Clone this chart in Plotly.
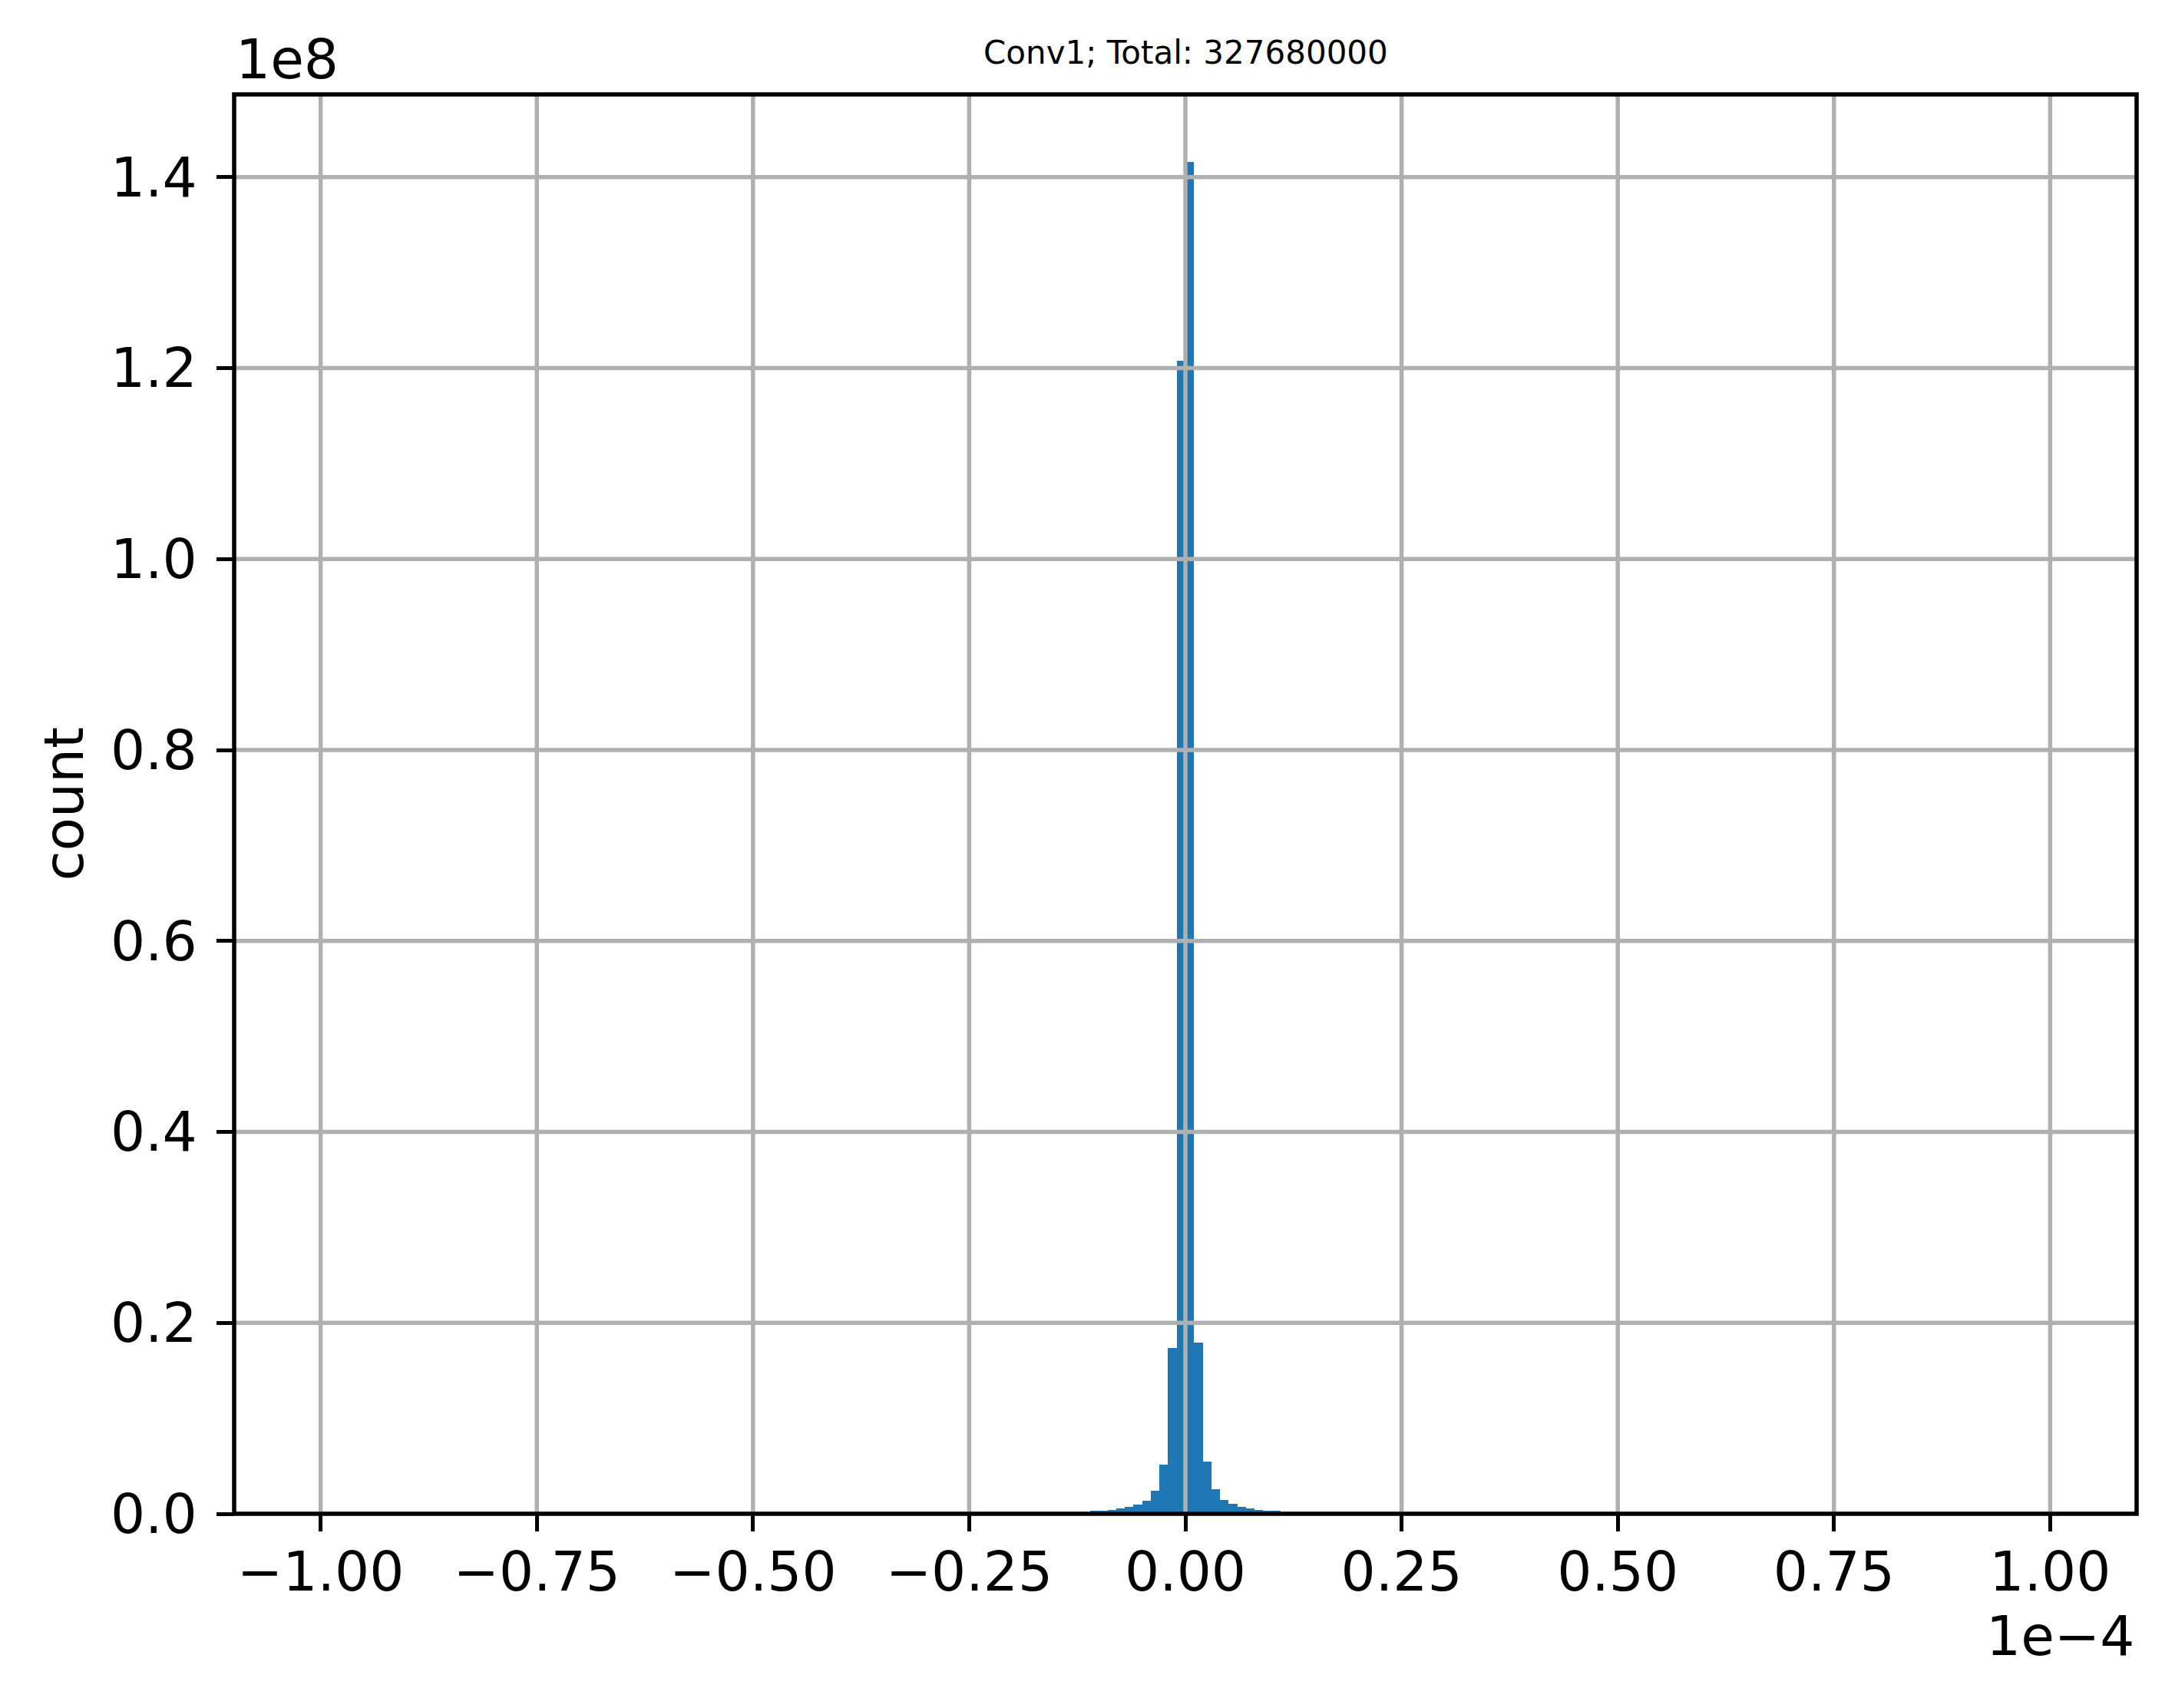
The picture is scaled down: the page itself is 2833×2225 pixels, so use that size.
import plotly.graph_objects as go

# ---- data ----
title_text = "Conv1; Total: 327680000"
bin_width = 1e-6
hist_range = (-1e-4, 1e-4)
# left edges of non-empty bins, in units of bin_width
bin_left_idx = [-13, -12, -11, -10, -9, -8, -7, -6, -5, -4, -3, -2, -1,
                0, 1, 2, 3, 4, 5, 6, 7, 8, 9, 10, 11, 12]
# counts per bin
counts = [80000, 150000, 290000, 290000, 390000, 550000, 710000, 950000,
          1400000, 2440000, 5180000, 17400000, 120740000,
          141590000, 17900000, 5430000, 2550000, 1480000, 1030000, 710000,
          550000, 390000, 290000, 290000, 150000, 80000]

x_tick_vals = [-1.0e-4, -0.75e-4, -0.5e-4, -0.25e-4, 0.0, 0.25e-4, 0.5e-4, 0.75e-4, 1.0e-4]
x_tick_text = ["\u22121.00", "\u22120.75", "\u22120.50", "\u22120.25", "0.00", "0.25", "0.50", "0.75", "1.00"]
y_tick_vals = [0, 0.2e8, 0.4e8, 0.6e8, 0.8e8, 1.0e8, 1.2e8, 1.4e8]
y_tick_text = ["0.0", "0.2", "0.4", "0.6", "0.8", "1.0", "1.2", "1.4"]
x_offset_text = "1e\u22124"
y_offset_text = "1e8"
y_label = "count"

# ---- figure ----
W, H = 2833, 2225
PAGE_OFFSET = 8  # default browser body margin
L, R, T, B = 305 - PAGE_OFFSET, 50 + PAGE_OFFSET, 123 - PAGE_OFFSET, 253 + PAGE_OFFSET
FONT = "DejaVu Sans"
BAR_COLOR = "#1f77b4"
GRID_COLOR = "#b0b0b0"

centers = [(k + 0.5) * bin_width for k in bin_left_idx]

span = hist_range[1] - hist_range[0]
x_range = [hist_range[0] - 0.05 * span, hist_range[1] + 0.05 * span]
y_range = [0, max(counts) * 1.05]

fig = go.Figure()
fig.add_trace(go.Bar(
    x=centers, y=counts, width=bin_width,
    marker=dict(color=BAR_COLOR, line=dict(width=0)),
    hoverinfo="x+y",
))

shapes = []
for v in x_tick_vals:
    shapes.append(dict(type="line", xref="x", yref="paper", x0=v, x1=v, y0=0, y1=1,
                       line=dict(color=GRID_COLOR, width=5.5), layer="above"))
for v in y_tick_vals:
    shapes.append(dict(type="line", xref="paper", yref="y", x0=0, x1=1, y0=v, y1=v,
                       line=dict(color=GRID_COLOR, width=5.5), layer="above"))
shapes.append(dict(type="rect", xref="paper", yref="paper", x0=0, x1=1, y0=0, y1=1,
                   line=dict(color="black", width=5.5), layer="above"))

plot_w = W - L - R
annotations = [
    dict(text=title_text, xref="paper", yref="paper", x=0.5, y=1, xanchor="center",
         yanchor="bottom", yshift=28, showarrow=False, font=dict(family=FONT, size=42, color="black")),
    dict(text=y_offset_text, xref="paper", yref="paper", x=0, y=1, xanchor="left",
         yanchor="bottom", yshift=2, xshift=0, showarrow=False, font=dict(family=FONT, size=71, color="black")),
    dict(text=x_offset_text, xref="paper", yref="paper", x=1, y=0, xanchor="right",
         yanchor="top", yshift=-116, showarrow=False, font=dict(family=FONT, size=71, color="black")),
    dict(text=y_label, xref="paper", yref="paper", x=(83 - 305) / plot_w, y=0.5, xanchor="center",
         yanchor="middle", textangle=-90, showarrow=False, font=dict(family=FONT, size=71, color="black")),
]

fig.update_layout(
    width=W, height=H,
    margin=dict(l=L, r=R, t=T, b=B, pad=0),
    paper_bgcolor="white", plot_bgcolor="white",
    showlegend=False,
    bargap=0,
    font=dict(family=FONT, size=71, color="black"),
    shapes=shapes,
    annotations=annotations,
)
fig.update_xaxes(
    range=x_range, tickmode="array", tickvals=x_tick_vals, ticktext=x_tick_text,
    showgrid=False, zeroline=False, showline=False,
    ticks="outside", ticklen=22, tickwidth=5, tickcolor="black",
    ticklabelstandoff=-8,
    tickfont=dict(family=FONT, size=71, color="black"),
)
fig.update_yaxes(
    range=y_range, tickmode="array", tickvals=y_tick_vals, ticktext=y_tick_text,
    showgrid=False, zeroline=False, showline=False,
    ticks="outside", ticklen=22, tickwidth=5, tickcolor="black",
    ticklabelstandoff=11,
    tickfont=dict(family=FONT, size=71, color="black"),
)

fig.write_html("out.html")
